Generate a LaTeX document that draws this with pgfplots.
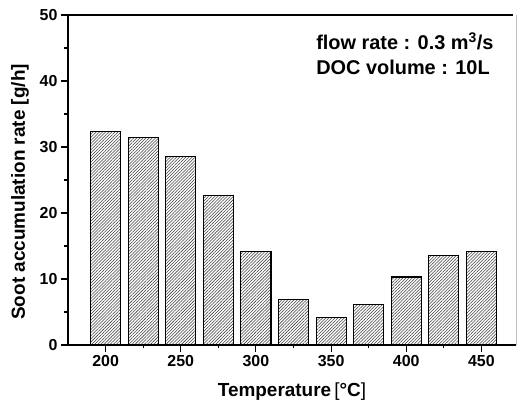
\documentclass[border=0pt]{standalone}
\usepackage{fontspec}
\setmainfont{Liberation Sans}
\usepackage{pgfplots}
\pgfplotsset{compat=1.18}
\usetikzlibrary{patterns.meta,calc}
\begin{document}
\begin{tikzpicture}
\begin{axis}[name=ax, scale only axis, width=448bp, height=330bp,
  xmin=175, xmax=473, ymin=0, ymax=50,
  axis x line*=bottom, axis y line*=left,
  axis line style={line width=1.3bp, black},
  every tick/.style={line width=1.1bp, black},
  tick align=outside,
  major tick length=7bp, minor tick length=3.5bp,
  xtick={200,250,...,450}, minor x tick num=1,
  ytick={0,10,...,50}, minor y tick num=1,
  /pgf/number format/assume math mode=true,
  tick label style={font=\bfseries\fontsize{16}{18}\selectfont},
  label style={font=\bfseries\fontsize{19}{22}\selectfont},
  xlabel={Temperature{\mdseries\,[}°C{\mdseries]}},
  ylabel={Soot accumulation rate [g/h]},
  xlabel style={at={(axis description cs:0.5,-0.142)}, anchor=center},
  ylabel style={at={(axis description cs:-0.107,0.464)}, anchor=center},
  ybar, bar width=20,
  clip=false,
]
\addplot[draw=black, line width=1.1bp, preaction={fill=white},
  pattern={Lines[angle=45,distance=2.2pt,line width=0.55pt]}, pattern color=black!75]
  coordinates {(200,32.3) (225,31.4) (250,28.6) (275,22.6) (300,14.2) (325,6.9) (350,4.1) (375,6.2) (400,10.3) (425,13.5) (450,14.2)};
\node[anchor=north west, inner sep=0pt, align=left, font=\bfseries\fontsize{20}{25}\selectfont]
  at (axis cs:340,47.4) {flow rate : 0.3 m\textsuperscript{3}/s\\DOC volume : 10L};
\end{axis}
\draw[line width=1.3bp] (ax.north west) -- ($(ax.north east)+(-3bp,0)$);
\draw[line width=0.8bp, black!25] (ax.north east) -- (ax.south east);
\pgfresetboundingbox
\path[use as bounding box] ($(ax.south west)+(-68bp,-60bp)$) rectangle ($(ax.north east)+(2bp,15bp)$);
\end{tikzpicture}
\end{document}
